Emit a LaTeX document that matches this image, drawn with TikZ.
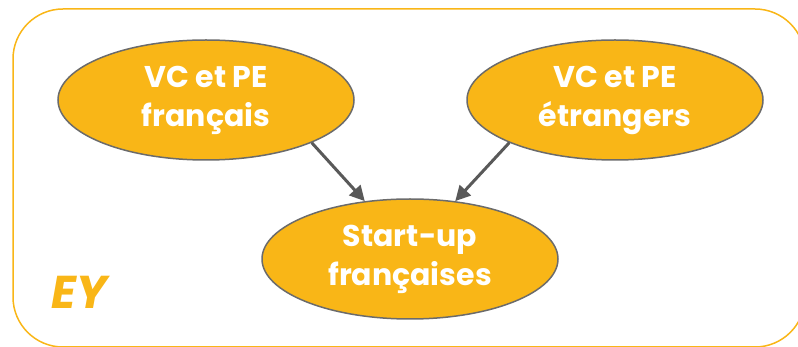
\documentclass[tikz,border=0pt]{standalone}
\usepackage{fontspec}
\setmainfont{Poppins}
\usetikzlibrary{shapes.geometric,arrows.meta}
\definecolor{eyjaune}{HTML}{F9B617}
\definecolor{eygris}{HTML}{595959}
\definecolor{eybord}{HTML}{6B6B6B}
\tikzset{
  bulle/.style={ellipse, draw=eybord, line width=1.5pt, fill=eyjaune,
    minimum width=296pt, minimum height=120pt, inner sep=0pt,
    text=white, align=center, font=\fontsize{30}{39}\selectfont\bfseries},
  fleche/.style={-{Triangle[length=15pt,width=15pt]}, eygris, line width=3pt}
}
\begin{document}
\begin{tikzpicture}[x=1pt, y=-1pt]
    \useasboundingbox (0,0) rectangle (798,347);
    % cadre arrondi
    \draw[eyjaune, line width=1.5pt, rounded corners=50pt] (13,9) rectangle (805,347);
    
    % les trois bulles
    \node[bulle] (vcfr) at (206,100) {VC et PE\\français};
    \node[bulle] (vcet) at (615,100) {VC et PE\\étrangers};
    \node[bulle] (startup) at (410,259) {Start-up\\françaises};
    
    % flèches
    \draw[fleche] (vcfr.-22) -- (startup.128);
    \draw[fleche] (vcet.-158) -- (startup.52);
    
    % logo
    \node[eyjaune, font=\fontsize{46}{46}\selectfont\bfseries\itshape] (logo) at (79,292) {EY};
\end{tikzpicture}
\end{document}
